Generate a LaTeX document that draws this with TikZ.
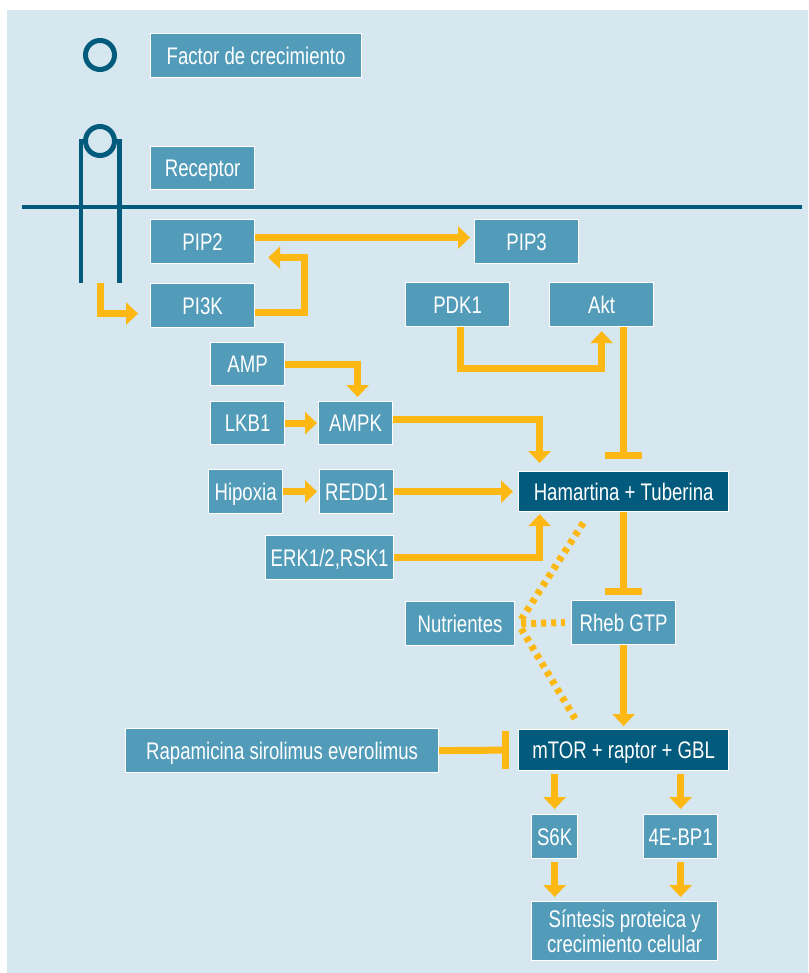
\documentclass[tikz,border=0pt]{standalone}
\usepackage{fontspec}
\setmainfont[FakeStretch=0.775]{Liberation Sans}
\usetikzlibrary{arrows.meta,calc}
\definecolor{bgc}{HTML}{D6E7EF}
\definecolor{boxc}{HTML}{529CBA}
\definecolor{darkc}{HTML}{025A7C}
\definecolor{orc}{HTML}{FDB813}
\begin{document}
\begin{tikzpicture}[x=1pt,y=-1pt,
  sbx/.style={draw=white, line width=1.2pt, fill=boxc, text=white, inner sep=0pt, anchor=north west,
    font=\fontsize{24}{25}\selectfont},
  bx/.style={sbx, text height=20.5pt, text depth=3pt},
  dbx/.style={bx, fill=darkc},
  arr/.style={draw=orc, line width=7pt, -{Triangle[width=22pt,length=12pt]}},
  inh/.style={draw=orc, line width=7pt},
  dots/.style={draw=orc, line width=7pt, dash pattern=on 5pt off 5pt},
  mem/.style={draw=darkc, line width=4.5pt},
  ring/.style={circle, draw=darkc, line width=5pt, minimum size=29pt, inner sep=0pt}]
\useasboundingbox (0,0) rectangle (808,973);
\fill[white] (0,0) rectangle (808,973);
\fill[bgc] (7,10) rectangle (808,973);

% membrane and receptor
\draw[mem] (22,207) -- (802,207);
\draw[mem] (81,139) -- (81,283);
\draw[mem] (119.5,139) -- (119.5,283);
\node[ring] (gf) at (100,55) {};
\node[ring] (rc) at (100,141) {};
\coordinate (rtip) at (100,283);

% boxes
\node[bx, minimum width=211pt, minimum height=44pt] (factor) at (150,33) {Factor de crecimiento};
\node[bx, minimum width=104pt, minimum height=43pt] (receptor) at (150,146) {Receptor};
\node[bx, minimum width=104pt, minimum height=44pt] (pip2) at (150,219) {PIP2};
\node[bx, minimum width=104pt, minimum height=44pt] (pi3k) at (150,283) {PI3K};
\node[bx, minimum width=104pt, minimum height=44pt] (pip3) at (474,219) {PIP3};
\node[bx, minimum width=104pt, minimum height=44pt] (pdk1) at (405,282) {PDK1};
\node[bx, minimum width=104pt, minimum height=44pt] (akt) at (549,282) {Akt};
\node[bx, minimum width=74pt, minimum height=43pt] (amp) at (210,342) {AMP};
\node[bx, minimum width=74pt, minimum height=43pt] (lkb1) at (210,401) {LKB1};
\node[bx, minimum width=74pt, minimum height=43pt] (ampk) at (318,401) {AMPK};
\node[bx, minimum width=74pt, minimum height=44pt] (hip) at (208,469) {Hipoxia};
\node[bx, minimum width=74pt, minimum height=44pt] (redd1) at (319,469) {REDD1};
\node[bx, minimum width=128pt, minimum height=44pt] (erk) at (265,535) {ERK1/2,RSK1};
\node[dbx, minimum width=210pt, minimum height=40pt] (ham) at (518,471) {Hamartina + Tuberina};
\node[bx, minimum width=109pt, minimum height=44pt] (nut) at (405,601) {Nutrientes};
\node[bx, minimum width=104pt, minimum height=44pt] (rheb) at (571,600) {Rheb GTP};
\node[bx, minimum width=313pt, minimum height=44pt] (rapa) at (125,728) {Rapamicina sirolimus everolimus};
\node[dbx, minimum width=210pt, minimum height=41pt] (mtor) at (518,729) {mTOR + raptor + GBL};
\node[bx, minimum width=46pt, minimum height=44pt] (s6k) at (531,814) {S6K};
\node[bx, minimum width=74pt, minimum height=44pt] (ebp) at (643,814) {4E-BP1};
\node[sbx, minimum width=186pt, minimum height=59pt, align=center] (sint) at (531,901) {Síntesis proteica y\\crecimiento celular};

% connectors
\draw[arr] (rtip) |- ($(pi3k.west)+(-12,8)$);
\draw[arr] ($(pi3k.east)+(0,7)$) -- ++(49,0) |- ($(pip2.east)+(13,16)$);
\draw[arr] ($(pip2.east)+(0,-4)$) -- ($(pip3.west)+(-4,-4)$);
\draw[arr] ($(pdk1.south)+(3,0)$) |- ($(akt.south)+(0,41)$) -- ($(akt.south)+(0,4)$);
\draw[inh] ($(akt.south)+(22,0)$) -- ($(ham.north)+(0,-16)$) coordinate (b1);
\draw[inh] ($(b1)+(-18.5,0)$) -- ($(b1)+(18.5,0)$);
\draw[arr] (amp.east) -| ($(ampk.north)+(2,-4)$);
\draw[arr] (lkb1.east) -- ($(ampk.west)+(-1,0)$);
\draw[arr] (hip.east) -- ($(redd1.west)+(-2,0)$);
\draw[arr] (redd1.east) -- ($(ham.west)+(-5,0)$);
\draw[arr] ($(ampk.east)+(0,-3.5)$) -| ($(ham.north)+(-84,-8)$);
\draw[arr] (erk.east) -| ($(ham.south)+(-84,2)$);
\draw[inh] (ham.south) -- ($(rheb.north)+(0,-9)$) coordinate (b2);
\draw[inh] ($(b2)+(-18.5,0)$) -- ($(b2)+(18.5,0)$);
\draw[arr] (rheb.south) -- ($(mtor.north)+(0,-3)$);
\draw[inh] (rapa.east) -- ($(mtor.west)+(-13,0)$) coordinate (b3);
\draw[inh] ($(b3)+(0,-19)$) -- ($(b3)+(0,19)$);
\draw[arr] ($(mtor.south -| s6k.north)+(0,3)$) -- ($(s6k.north)+(0,-5)$);
\draw[arr] ($(mtor.south -| ebp.north)+(0,3)$) -- ($(ebp.north)+(0,-5)$);
\draw[arr] ($(s6k.south)+(0,3)$) -- ($(sint.north -| s6k.south)+(0,-4)$);
\draw[arr] ($(ebp.south)+(0,3)$) -- ($(sint.north -| ebp.south)+(0,-4)$);

% dotted
\draw[dots] ($(nut.east)+(6,0)$) -- ($(rheb.west)+(-6,0)$);
\draw[dots] ($(nut.east)+(6,-4)$) -- ($(ham.south)+(-38,7)$);
\draw[dots] ($(nut.east)+(6,5)$) -- ($(mtor.north)+(-46,-6)$);
\end{tikzpicture}
\end{document}
